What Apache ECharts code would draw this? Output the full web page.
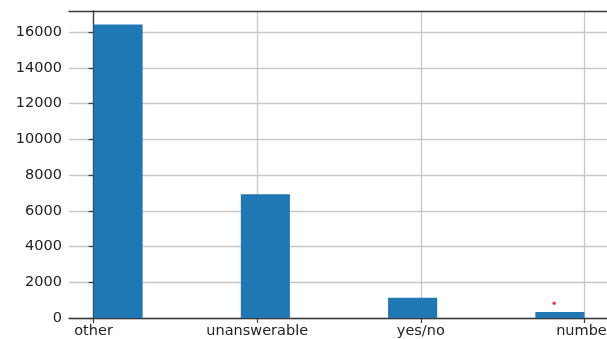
<!DOCTYPE html>
<html>
<head>
<meta charset="utf-8">
<script src="https://cdn.jsdelivr.net/npm/echarts@6/dist/echarts.min.js"></script>
<style>
html,body{margin:0;padding:0;background:#fff;}
#c{width:607px;height:339px;}
</style>
</head>
<body>
<div id="c"></div>
<script>
// Data
const categories = ['other', 'unanswerable', 'yes/no', 'number'];
const categoryPositions = [0, 1, 2, 3];
const binStarts = [0, 0.9, 1.8, 2.7];
const binWidth = 0.3;
const counts = [16430, 6930, 1140, 340];
const yTicks = [0, 2000, 4000, 6000, 8000, 10000, 12000, 14000, 16000];
const markerPoint = [[2.815, 820]];

const barData = binStarts.map((s, i) => [s, s + binWidth, counts[i]]);

const chart = echarts.init(document.getElementById('c'), null, {renderer: 'canvas'});
const font = 'DejaVu Sans';
const spine = {show: true, lineStyle: {color: '#3a3a3a', width: 1.3}};
chart.setOption({
  animation: false,
  backgroundColor: '#fff',
  grid: {
    left: 69, top: 11, width: 540, height: 307,
    outerBoundsMode: 'none', containLabel: false, show: false
  },
  xAxis: [{
    type: 'value', min: -0.15, max: 3.15,
    axisLine: spine,
    axisTick: {show: true, length: 5, lineStyle: {color: '#3a3a3a', width: 1.2}, customValues: categoryPositions},
    axisLabel: {
      customValues: categoryPositions,
      formatter: v => categories[Math.round(v)] ?? '',
      color: '#222', fontFamily: font, fontSize: 14.5, margin: 6,
      hideOverlap: false
    },
    splitLine: {show: true, lineStyle: {color: '#c8c8c8', width: 1.3}}
  }, {
    type: 'value', position: 'top', min: -0.15, max: 3.15,
    axisLine: spine, axisTick: {show: false}, axisLabel: {show: false}, splitLine: {show: false}
  }],
  yAxis: {
    type: 'value', min: 0, max: 17180,
    axisLine: spine,
    axisTick: {show: true, length: 5, lineStyle: {color: '#3a3a3a', width: 1.2}, customValues: yTicks},
    axisLabel: {customValues: yTicks, formatter: v => String(v), color: '#222', fontFamily: font, fontSize: 14.5, margin: 7},
    splitLine: {show: true, lineStyle: {color: '#c8c8c8', width: 1.3}}
  },
  series: [
    {
      type: 'custom',
      data: barData,
      encode: {x: [0, 1], y: 2},
      renderItem: function (params, api) {
        const p0 = api.coord([api.value(0), 0]);
        const p1 = api.coord([api.value(1), api.value(2)]);
        return {
          type: 'rect',
          shape: {x: p0[0], y: p1[1], width: p1[0] - p0[0], height: p0[1] - p1[1]},
          style: {fill: '#1f77b4'}
        };
      },
      z: 2
    },
    {
      type: 'scatter',
      data: markerPoint,
      symbol: 'circle',
      symbolSize: 3.5,
      itemStyle: {color: '#e8101a'},
      z: 5
    }
  ]
});
</script>
</body>
</html>
